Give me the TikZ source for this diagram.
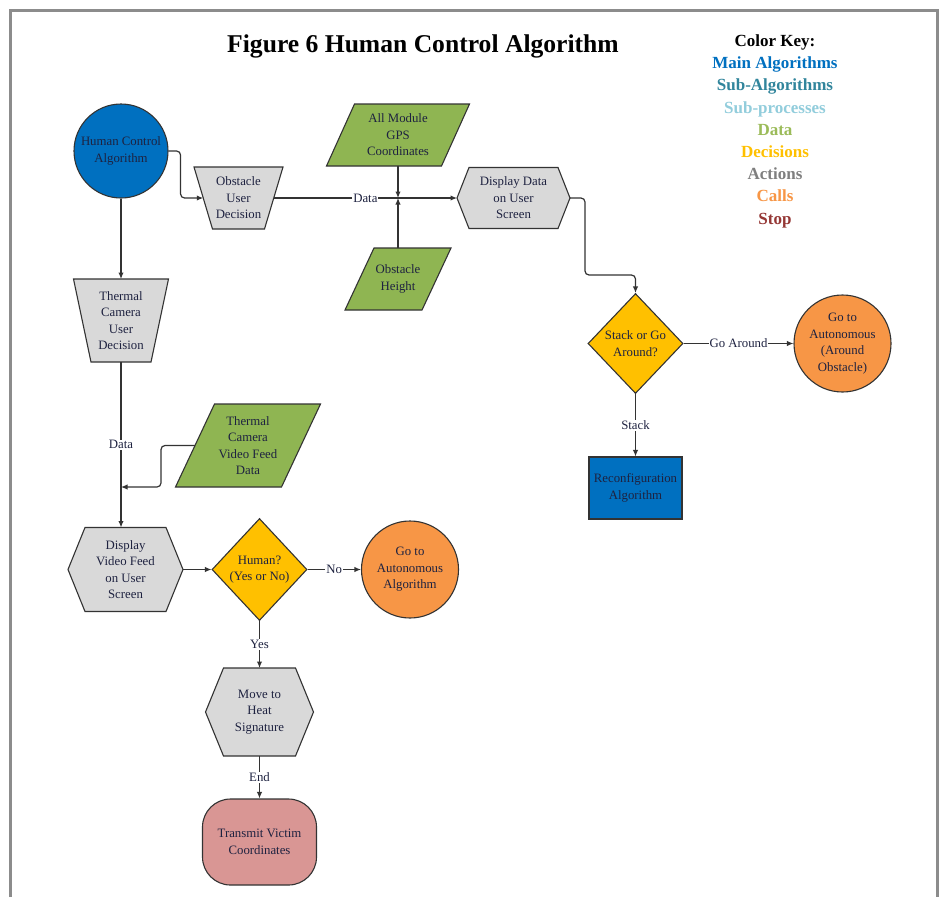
\documentclass[tikz,border=0pt]{standalone}
\usepackage{fontspec}
\setmainfont{Liberation Serif}
\usetikzlibrary{shapes.geometric,arrows.meta,backgrounds,calc}
\definecolor{mainblue}{HTML}{0070C0}
\definecolor{subalg}{HTML}{31859C}
\definecolor{subproc}{HTML}{92CDDC}
\definecolor{datagreen}{HTML}{9BBB59}
\definecolor{datafill}{HTML}{8FB552}
\definecolor{decyellow}{HTML}{FFC000}
\definecolor{actgray}{HTML}{7F7F7F}
\definecolor{actfill}{HTML}{D9D9D9}
\definecolor{callorange}{HTML}{F79646}
\definecolor{stopred}{HTML}{953735}
\definecolor{stopfill}{HTML}{D99694}
\definecolor{txt}{HTML}{1E2240}
\definecolor{edgecol}{HTML}{333333}
\definecolor{framecol}{HTML}{8C8C8C}
\tikzset{
  every node/.style={font=\fontsize{12.8}{16.5}\selectfont, text=txt, align=center},
  outline/.style={draw=edgecol, line width=1.1pt},
  ghost/.style={inner sep=0pt, outer sep=0pt, draw=none},
  callnode/.style={outline, circle, fill=callorange, inner sep=0pt},
  mainnode/.style={outline, fill=mainblue},
  decnode/.style={outline, diamond, fill=decyellow, inner sep=0pt},
  stopnode/.style={outline, fill=stopfill, rounded corners=28pt},
  conn/.style={draw=edgecol, line width=1.2pt, -{Latex[length=6.5pt,width=5.5pt]}},
  lbl/.style={fill=white, inner sep=1pt},
  keytxt/.style={font=\fontsize{17}{20}\selectfont\bfseries, anchor=base},
}
\begin{document}
\begin{tikzpicture}[x=1pt,y=-1pt]
\useasboundingbox (0,0) rectangle (944,897);
\begin{scope}[on background layer]
  \fill[white] (0,0) rectangle (944,897);
\end{scope}
\draw[framecol, line width=3pt] (10.5,897) -- (10.5,10) -- (937,10) -- (937,897);

% title and key
\node[font=\fontsize{25.6}{30}\selectfont\bfseries, text=black, anchor=base] (title) at (423,52.5) {Figure 6 Human Control Algorithm};
\node[keytxt, text=black] (key0) at (775,46.5) {Color Key:};
\node[keytxt, text=mainblue] (key1) at (775,68.7) {Main Algorithms};
\node[keytxt, text=subalg] (key2) at (775,90.9) {Sub-Algorithms};
\node[keytxt, text=subproc] (key3) at (775,113.1) {Sub-processes};
\node[keytxt, text=datagreen] (key4) at (775,135.3) {Data};
\node[keytxt, text=decyellow] (key5) at (775,157.5) {Decisions};
\node[keytxt, text=actgray] (key6) at (775,179.7) {Actions};
\node[keytxt, text=callorange] (key7) at (775,201.9) {Calls};
\node[keytxt, text=stopred] (key8) at (775,224.1) {Stop};

% nodes
\node[mainnode, circle, minimum size=94pt, inner sep=0pt] (hca) at (121,151) {Human Control\\Algorithm};
\node[ghost, minimum width=70.5pt, minimum height=62pt] (oud) at (238.5,198) {Obstacle\\User\\Decision};
\node[ghost, minimum width=115pt, minimum height=62pt] (gps) at (398,135) {All Module\\GPS\\Coordinates};
\node[ghost, minimum width=77pt, minimum height=62pt] (oh) at (398,279) {Obstacle\\Height};
\node[ghost, minimum width=113pt, minimum height=61pt] (dd) at (513.5,198) {Display Data\\on User\\Screen};
\node[decnode, minimum width=95pt, minimum height=100pt] (soa) at (635.5,343.5) {Stack or Go\\Around?};
\node[callnode, minimum size=97pt] (gaa) at (842.5,343.5) {Go to\\Autonomous\\(Around\\Obstacle)};
\node[mainnode, minimum width=93pt, minimum height=62pt] (rca) at (635.5,488) {Reconfiguration\\Algorithm};
\node[ghost, minimum width=77.5pt, minimum height=83pt] (tcud) at (121,320.5) {Thermal\\Camera\\User\\Decision};
\node[ghost, minimum width=106pt, minimum height=83pt] (tv) at (248,445.5) {Thermal\\Camera\\Video Feed\\Data};
\node[ghost, minimum width=115pt, minimum height=84pt] (dvf) at (125.5,569.5) {Display\\Video Feed\\on User\\Screen};
\node[decnode, minimum width=95pt, minimum height=102pt] (hum) at (259.5,569.5) {Human?\\(Yes or No)};
\node[callnode, minimum size=97pt] (gta) at (410,569.5) {Go to\\Autonomous\\Algorithm};
\node[ghost, minimum width=108pt, minimum height=88pt] (mhs) at (259.5,712) {Move to\\Heat\\Signature};
\node[stopnode, minimum width=114pt, minimum height=86pt] (tvc) at (259.5,842) {Transmit Victim\\Coordinates};

% custom outlines
\begin{scope}[on background layer]
  % trapezoids (wide top)
  \path[outline, fill=actfill] ([xshift=-9.25pt]oud.north west) -- ([xshift=9.25pt]oud.north east) -- ([xshift=-9.25pt]oud.south east) -- ([xshift=9.25pt]oud.south west) -- cycle;
  \path[outline, fill=actfill] ([xshift=-8.75pt]tcud.north west) -- ([xshift=8.75pt]tcud.north east) -- ([xshift=-8.75pt]tcud.south east) -- ([xshift=8.75pt]tcud.south west) -- cycle;
  % parallelograms
  \path[outline, fill=datafill] ([xshift=14pt]gps.north west) -- ([xshift=14pt]gps.north east) -- ([xshift=-14pt]gps.south east) -- ([xshift=-14pt]gps.south west) -- cycle;
  \path[outline, fill=datafill] ([xshift=14.5pt]oh.north west) -- ([xshift=14.5pt]oh.north east) -- ([xshift=-14.5pt]oh.south east) -- ([xshift=-14.5pt]oh.south west) -- cycle;
  \path[outline, fill=datafill] ([xshift=19.5pt]tv.north west) -- ([xshift=19.5pt]tv.north east) -- ([xshift=-19.5pt]tv.south east) -- ([xshift=-19.5pt]tv.south west) -- cycle;
  % hexagons
  \path[outline, fill=actfill] (dd.west) -- ([xshift=12pt]dd.north west) -- ([xshift=-12pt]dd.north east) -- (dd.east) -- ([xshift=-12pt]dd.south east) -- ([xshift=12pt]dd.south west) -- cycle;
  \path[outline, fill=actfill] (dvf.west) -- ([xshift=17pt]dvf.north west) -- ([xshift=-17pt]dvf.north east) -- (dvf.east) -- ([xshift=-17pt]dvf.south east) -- ([xshift=17pt]dvf.south west) -- cycle;
  \path[outline, fill=actfill] (mhs.west) -- ([xshift=18pt]mhs.north west) -- ([xshift=-18pt]mhs.north east) -- (mhs.east) -- ([xshift=-18pt]mhs.south east) -- ([xshift=18pt]mhs.south west) -- cycle;
\end{scope}

% connectors
\coordinate (jn) at (398,198);
\coordinate (k1) at (585,275);
\coordinate (k2) at (121,487);
\draw[conn, rounded corners=4pt] (hca.east) -- ++(12,0) |- (oud.west);
\draw[conn] (oud.east) -- node[lbl]{Data} (dd.west);
\draw[conn] (gps.south) -- (jn);
\draw[conn] (oh.north) -- (jn);
\draw[conn, rounded corners=4pt] (dd.east) -| (k1) -| (soa.north);
\draw[conn] (soa.east) -- node[lbl]{Go Around} (gaa.west);
\draw[conn] (soa.south) -- node[lbl]{Stack} (rca.north);
\draw[conn] (hca.south) -- (tcud.north);
\draw[conn] (tcud.south) -- node[lbl]{Data} (tcud.south |- dvf.north);
\draw[conn, rounded corners=4pt] (tv.west) -- ++(-34,0) |- (k2);
\draw[conn] (dvf.east) -- (hum.west);
\draw[conn] (hum.east) -- node[lbl]{No} (gta.west);
\draw[conn] (hum.south) -- node[lbl]{Yes} (mhs.north);
\draw[conn] (mhs.south) -- node[lbl]{End} (tvc.north);
\end{tikzpicture}
\end{document}
